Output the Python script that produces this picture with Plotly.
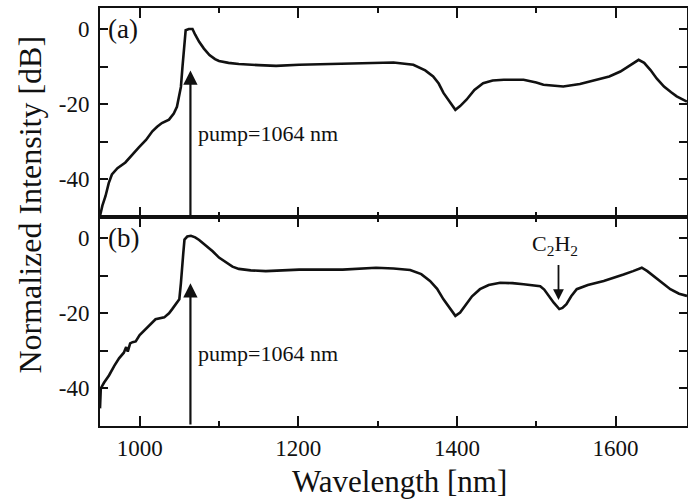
import plotly.graph_objects as go
from plotly.subplots import make_subplots

# ---- data ----
wl_a = [950, 953, 957, 961, 965, 972, 982, 990, 999, 1008, 1016, 1022, 1028, 1037,
        1043, 1047, 1050, 1052, 1054, 1056, 1058, 1062, 1066.6, 1070, 1075, 1081,
        1088, 1095, 1100, 1112, 1125, 1150, 1172, 1201, 1230, 1257, 1290, 1320,
        1345, 1360, 1370, 1377, 1383, 1391, 1398, 1404, 1412, 1422, 1433, 1445,
        1459, 1484, 1500, 1509, 1534, 1555, 1576, 1592, 1606, 1618, 1629, 1636,
        1644, 1652, 1661, 1670, 1677, 1690]
db_a = [-49.7, -47, -44.4, -41, -38.7, -37, -35.5, -33.5, -31.5, -29.5, -27.2, -26,
        -25, -24.1, -22.5, -20.7, -18, -15.4, -10, -5.6, -0.3, 0, 0, -1.5, -3.4,
        -5.2, -6.9, -8, -8.5, -9, -9.3, -9.6, -9.8, -9.5, -9.4, -9.3, -9.1, -8.9,
        -9.5, -11, -12.6, -14.5, -17, -19.5, -21.5, -20.5, -18.8, -16.2, -14.4,
        -13.7, -13.5, -13.5, -14.2, -14.8, -15.3, -14.6, -13.5, -12.6, -11.3,
        -9.8, -8.2, -9, -10.9, -13.2, -15.3, -16.8, -17.9, -19.3]

wl_b = [950, 951, 955, 961.5, 968, 974, 980, 983, 985, 988, 991, 995, 1000, 1008,
        1014, 1020, 1031, 1037, 1041, 1046, 1050, 1052, 1053, 1055, 1056.5, 1060,
        1064.6, 1070, 1075, 1083, 1092, 1100, 1109, 1117, 1125, 1140, 1159, 1180,
        1201, 1230, 1256, 1298, 1320, 1341, 1355, 1366, 1375, 1383, 1391, 1398,
        1404, 1410, 1419, 1429, 1440, 1454.5, 1470, 1484, 1505, 1510, 1515.5,
        1522, 1529, 1533, 1538, 1544, 1551, 1565, 1585, 1598, 1610, 1622, 1633,
        1640, 1648, 1658, 1669, 1680, 1690]
db_b = [-45.3, -40, -38.5, -36.5, -34, -32, -30.5, -29, -30.2, -28, -27.7, -27.5,
        -25.8, -24.2, -22.8, -21.6, -21.1, -20, -18.9, -17.5, -16.3, -12, -8.4, -4,
        -0.4, 0.4, 0.6, 0.2, -0.5, -1.8, -3.5, -5.2, -6.6, -7.6, -8.2, -8.6, -8.8,
        -8.6, -8.4, -8.4, -8.4, -7.9, -8.1, -8.5, -9.6, -11.4, -13.5, -16.3, -18.8,
        -20.7, -19.8, -18, -15.5, -13.6, -12.5, -11.9, -12, -12.3, -12.8, -13.7,
        -15.4, -17.2, -18.9, -18.6, -17.6, -15.5, -13.6, -12.5, -11.4, -10.6, -9.7,
        -8.8, -7.9, -8.8, -10.1, -11.8, -13.6, -14.8, -15.4]

x_ticks = [1000, 1200, 1400, 1600]
x_tick_labels = ["1000", "1200", "1400", "1600"]
y_ticks = [0, -20, -40]
y_tick_labels = ["0", "-20", "-40"]
x_range = [950, 1690]
y_range = [-50, 5.6]

pump_wl = 1064
pump_tip = [-11, -12]
pump_text_y = [-27.8, -30.8]
c2h2_wl = 1528
c2h2_tip, c2h2_tail = -16.5, -6.8
c2h2_text = (1523, -1.8)

FONT = "Liberation Serif"
INK = "#111111"

fig = make_subplots(rows=2, cols=1, shared_xaxes=True, vertical_spacing=0)
fig.add_trace(go.Scatter(x=wl_a, y=db_a, mode="lines",
                         line=dict(color=INK, width=2.6), showlegend=False), row=1, col=1)
fig.add_trace(go.Scatter(x=wl_b, y=db_b, mode="lines",
                         line=dict(color=INK, width=2.6), showlegend=False), row=2, col=1)

axis_common = dict(showline=True, linewidth=2, linecolor=INK, mirror="allticks",
                   ticks="inside", tickcolor=INK, tickwidth=1.5, showgrid=False,
                   zeroline=False, automargin=False)
for r in (1, 2):
    fig.update_xaxes(range=x_range, tickvals=x_ticks, ticktext=x_tick_labels, ticklen=10,
                     minor=dict(ticks="inside", dtick=100, tick0=1000, ticklen=5,
                                tickcolor=INK, tickwidth=1.5),
                     showticklabels=(r == 2),
                     tickfont=dict(family=FONT, size=23, color=INK),
                     row=r, col=1, **axis_common)
    fig.update_yaxes(range=y_range, tickvals=y_ticks, ticktext=y_tick_labels, ticklen=8,
                     minor=dict(ticks="inside", dtick=10, tick0=0, ticklen=8,
                                tickcolor=INK, tickwidth=1.5),
                     tickfont=dict(family=FONT, size=23, color=INK),
                     ticklabelstandoff=4,
                     row=r, col=1, **axis_common)

annos = []
for i, (xr, yr, lab) in enumerate([("x", "y", "(a)"), ("x2", "y2", "(b)")]):
    annos.append(dict(x=x_range[0], y=0, xref=xr, yref=yr, text=lab, showarrow=False,
                      xanchor="left", yanchor="middle", xshift=6,
                      font=dict(family=FONT, size=27, color=INK)))
    annos.append(dict(x=pump_wl, y=pump_tip[i], ax=pump_wl, ay=y_range[0], xref=xr, yref=yr,
                      axref=xr, ayref=yr, text="", showarrow=True, arrowhead=2,
                      arrowsize=1.3, arrowwidth=2.2, arrowcolor=INK, standoff=0))
    annos.append(dict(x=pump_wl, y=pump_text_y[i], xref=xr, yref=yr, text="pump=1064 nm",
                      showarrow=False, xanchor="left", yanchor="middle", xshift=6,
                      font=dict(family=FONT, size=22, color=INK)))
annos.append(dict(x=c2h2_wl, y=c2h2_tip, ax=c2h2_wl, ay=c2h2_tail, xref="x2", yref="y2",
                  axref="x2", ayref="y2", text="", showarrow=True, arrowhead=2,
                  arrowsize=1.2, arrowwidth=1.8, arrowcolor=INK, standoff=0))
annos.append(dict(x=c2h2_text[0], y=c2h2_text[1], xref="x2", yref="y2",
                  text="C<sub>2</sub>H<sub>2</sub>", showarrow=False,
                  xanchor="center", yanchor="middle",
                  font=dict(family=FONT, size=22, color=INK)))
annos.append(dict(x=-0.119, y=0.53, xref="paper", yref="paper",
                  text="Normalized Intensity [dB]", textangle=-90, showarrow=False,
                  xanchor="center", yanchor="middle",
                  font=dict(family=FONT, size=32, color=INK)))
annos.append(dict(x=0.511, y=-0.133, xref="paper", yref="paper",
                  text="Wavelength [nm]", showarrow=False,
                  xanchor="center", yanchor="middle",
                  font=dict(family=FONT, size=31, color=INK)))

fig.update_layout(width=688, height=500,
                  margin=dict(l=100, r=1, t=8, b=74, autoexpand=False),
                  paper_bgcolor="white", plot_bgcolor="white", annotations=annos,
                  showlegend=False)

fig.write_html("out.html", config={"displayModeBar": False},
               post_script="document.body.style.margin='0';document.body.style.overflow='hidden';")
